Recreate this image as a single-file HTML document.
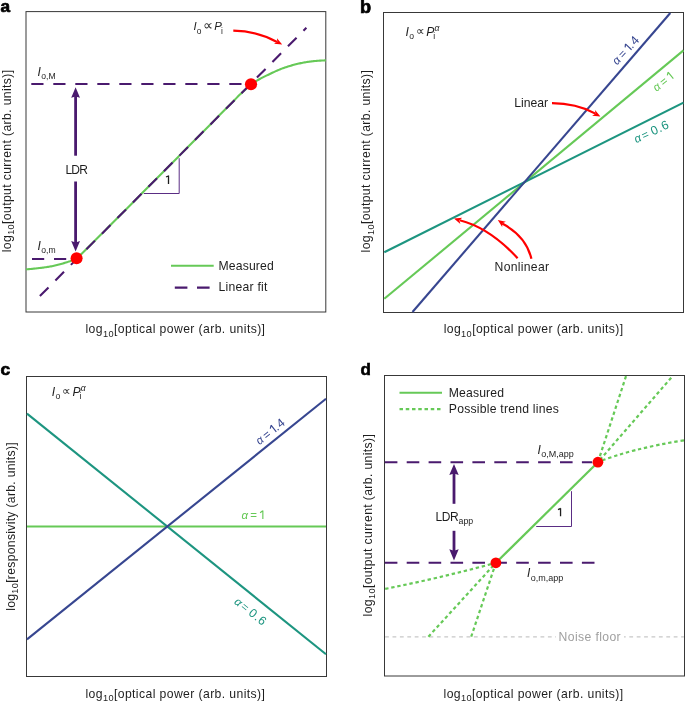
<!DOCTYPE html>
<html><head><meta charset="utf-8"><title>Figure</title>
<style>
html,body{margin:0;padding:0;background:#fff;}
body{width:685px;height:702px;overflow:hidden;}
svg{display:block;will-change:transform;font-family:"Liberation Sans", sans-serif;}
</style></head><body>
<svg width="685" height="702" viewBox="0 0 685 702">
<rect width="685" height="702" fill="#fff"/>
<rect x="26" y="11.6" width="299.8" height="300.4" fill="none" stroke="#383838" stroke-width="1"/>
<text x="0.4" y="11.6" font-size="17.2" font-weight="bold" fill="#000" stroke="#000" stroke-width="0.7">a</text>
<path d="M26 269.4 L27 269.32 L28 269.23 L29 269.14 L30 269.05 L31 268.95 L32 268.85 L33 268.75 L33.99 268.65 L34.99 268.54 L35.99 268.43 L36.99 268.32 L37.99 268.2 L38.99 268.08 L39.99 267.97 L40.99 267.85 L41.99 267.72 L42.99 267.6 L43.99 267.46 L44.99 267.33 L45.99 267.19 L46.99 267.04 L47.99 266.89 L48.98 266.72 L49.98 266.56 L50.98 266.38 L51.98 266.18 L52.98 265.98 L53.98 265.76 L54.98 265.53 L55.98 265.3 L56.98 265.05 L57.98 264.79 L58.98 264.53 L59.98 264.26 L60.98 263.98 L61.98 263.7 L62.98 263.42 L63.97 263.13 L64.97 262.84 L65.97 262.53 L66.97 262.21 L67.97 261.87 L68.97 261.52 L69.97 261.15 L70.97 260.75 L71.97 260.34 L72.97 259.91 L73.97 259.44 L74.97 258.93 L75.97 258.38 L76.97 257.76 L77.97 257.03 L78.96 256.2 L79.96 255.3 L80.96 254.37 L81.96 253.45 L82.96 252.52 L83.96 251.55 L84.96 250.56 L85.96 249.55 L86.96 248.53 L87.96 247.51 L88.96 246.49 L89.96 245.49 L90.96 244.5 L91.96 243.51 L92.96 242.53 L93.95 241.54 L94.95 240.55 L95.95 239.57 L96.95 238.58 L97.95 237.59 L98.95 236.6 L99.95 235.61 L100.95 234.62 L101.95 233.62 L102.95 232.62 L103.95 231.62 L104.95 230.62 L105.95 229.62 L106.95 228.61 L107.95 227.6 L108.94 226.6 L109.94 225.59 L110.94 224.58 L111.94 223.57 L112.94 222.56 L113.94 221.55 L114.94 220.54 L115.94 219.53 L116.94 218.53 L117.94 217.52 L118.94 216.51 L119.94 215.5 L120.94 214.5 L121.94 213.49 L122.94 212.48 L123.93 211.48 L124.93 210.47 L125.93 209.46 L126.93 208.46 L127.93 207.45 L128.93 206.45 L129.93 205.44 L130.93 204.43 L131.93 203.43 L132.93 202.42 L133.93 201.41 L134.93 200.41 L135.93 199.4 L136.93 198.39 L137.93 197.39 L138.92 196.38 L139.92 195.38 L140.92 194.37 L141.92 193.36 L142.92 192.36 L143.92 191.35 L144.92 190.34 L145.92 189.34 L146.92 188.33 L147.92 187.33 L148.92 186.32 L149.92 185.31 L150.92 184.31 L151.92 183.3 L152.92 182.29 L153.91 181.29 L154.91 180.28 L155.91 179.27 L156.91 178.27 L157.91 177.26 L158.91 176.26 L159.91 175.25 L160.91 174.24 L161.91 173.24 L162.91 172.23 L163.91 171.22 L164.91 170.22 L165.91 169.21 L166.91 168.2 L167.91 167.2 L168.9 166.19 L169.9 165.19 L170.9 164.18 L171.9 163.17 L172.9 162.17 L173.9 161.16 L174.9 160.15 L175.9 159.15 L176.9 158.14 L177.9 157.14 L178.9 156.13 L179.9 155.12 L180.9 154.12 L181.9 153.11 L182.9 152.1 L183.89 151.1 L184.89 150.09 L185.89 149.08 L186.89 148.08 L187.89 147.07 L188.89 146.07 L189.89 145.06 L190.89 144.05 L191.89 143.05 L192.89 142.04 L193.89 141.03 L194.89 140.03 L195.89 139.02 L196.89 138.02 L197.89 137.01 L198.88 136 L199.88 135 L200.88 133.99 L201.88 132.98 L202.88 131.98 L203.88 130.97 L204.88 129.96 L205.88 128.95 L206.88 127.95 L207.88 126.94 L208.88 125.93 L209.88 124.92 L210.88 123.92 L211.88 122.91 L212.88 121.9 L213.87 120.89 L214.87 119.88 L215.87 118.88 L216.87 117.87 L217.87 116.86 L218.87 115.86 L219.87 114.85 L220.87 113.84 L221.87 112.84 L222.87 111.83 L223.87 110.83 L224.87 109.82 L225.87 108.82 L226.87 107.81 L227.87 106.81 L228.86 105.81 L229.86 104.81 L230.86 103.8 L231.86 102.78 L232.86 101.75 L233.86 100.71 L234.86 99.68 L235.86 98.64 L236.86 97.62 L237.86 96.6 L238.86 95.6 L239.86 94.61 L240.86 93.65 L241.86 92.71 L242.86 91.81 L243.85 90.92 L244.85 90.04 L245.85 89.17 L246.85 88.3 L247.85 87.45 L248.85 86.61 L249.85 85.79 L250.85 84.99 L251.85 84.21 L252.85 83.45 L253.85 82.73 L254.85 82.02 L255.85 81.36 L256.85 80.72 L257.85 80.11 L258.84 79.53 L259.84 78.97 L260.84 78.42 L261.84 77.89 L262.84 77.38 L263.84 76.88 L264.84 76.39 L265.84 75.9 L266.84 75.42 L267.84 74.94 L268.84 74.46 L269.84 73.97 L270.84 73.49 L271.84 73.02 L272.84 72.54 L273.83 72.08 L274.83 71.61 L275.83 71.16 L276.83 70.71 L277.83 70.27 L278.83 69.84 L279.83 69.43 L280.83 69.02 L281.83 68.63 L282.83 68.26 L283.83 67.9 L284.83 67.56 L285.83 67.23 L286.83 66.91 L287.83 66.59 L288.82 66.28 L289.82 65.97 L290.82 65.67 L291.82 65.38 L292.82 65.1 L293.82 64.82 L294.82 64.56 L295.82 64.3 L296.82 64.05 L297.82 63.81 L298.82 63.58 L299.82 63.36 L300.82 63.15 L301.82 62.95 L302.82 62.76 L303.81 62.58 L304.81 62.4 L305.81 62.22 L306.81 62.06 L307.81 61.9 L308.81 61.74 L309.81 61.6 L310.81 61.47 L311.81 61.34 L312.81 61.23 L313.81 61.13 L314.81 61.05 L315.81 60.96 L316.81 60.88 L317.81 60.81 L318.8 60.73 L319.8 60.66 L320.8 60.6 L321.8 60.54 L322.8 60.5 L323.8 60.45 L324.8 60.42 L325.8 60.4" fill="none" stroke="#66c957" stroke-width="2.1"/>
<line x1="39.9" y1="296.1" x2="306.4" y2="27.8" stroke="#4a1a6e" stroke-width="2.1" stroke-dasharray="12.2 9.8"/>
<line x1="31.3" y1="84.1" x2="245" y2="84.1" stroke="#4a1a6e" stroke-width="2" stroke-dasharray="12.2 9.8"/>
<line x1="32" y1="258.9" x2="70" y2="258.9" stroke="#4a1a6e" stroke-width="2" stroke-dasharray="12.2 9.8"/>
<path d="M143.8 193.5 H179.2 V158.2" fill="none" stroke="#5a2d84" stroke-width="1"/>
<path d="M168.5 183.9 V175.6 M168.7 175.75 L166 177" fill="none" stroke="#1e1e1e" stroke-width="1.3"/>
<line x1="75.6" y1="96" x2="75.6" y2="155.7" stroke="#4a1a6e" stroke-width="2.8"/>
<path d="M75.6 87.2 L80 97.8 L75.6 96.4 L71.2 97.8 Z" fill="#4a1a6e"/>
<line x1="75.6" y1="181.5" x2="75.6" y2="243" stroke="#4a1a6e" stroke-width="2.8"/>
<path d="M75.6 251.6 L71.2 241 L75.6 242.4 L80 241 Z" fill="#4a1a6e"/>
<text x="65.4" y="173.5" font-size="12" fill="#1e1e1e" text-anchor="start" letter-spacing="-0.8">LDR</text>
<circle cx="76.6" cy="258.3" r="6" fill="#ff0000"/>
<circle cx="251" cy="84.25" r="6.1" fill="#ff0000"/>
<text x="37.4" y="75.6" font-size="12" fill="#1e1e1e"><tspan font-style="italic">I</tspan><tspan font-size="8.6" dy="3.2" dx="0.5">o,M</tspan></text>
<text x="37.4" y="249.6" font-size="12" fill="#1e1e1e"><tspan font-style="italic">I</tspan><tspan font-size="8.6" dy="3.2" dx="0.5">o,m</tspan></text>
<text font-size="11.4" fill="#1e1e1e"><tspan x="193.5" y="30.4" font-style="italic">I</tspan><tspan x="196.7" y="33.7" font-size="8.4">o</tspan><tspan x="202.9" y="29.7" font-size="13.5">∝</tspan><tspan x="214.3" y="30.4" font-style="italic">P</tspan><tspan x="221.0" y="33.7" font-size="8.4">i</tspan></text>
<path d="M233.3 30.6 Q257 31 277 42" fill="none" stroke="#ff0000" stroke-width="2.2"/>
<path d="M282.2 44.6 L273.99 43.86 L277.26 41.97 L276.99 38.21 Z" fill="#ff0000"/>
<line x1="171" y1="265.8" x2="213.7" y2="265.8" stroke="#66c957" stroke-width="2.1"/>
<line x1="174.8" y1="287.6" x2="210" y2="287.6" stroke="#4a1a6e" stroke-width="2.1" stroke-dasharray="12.6 9.6"/>
<text x="218.4" y="269.6" font-size="12.2" fill="#1e1e1e" text-anchor="start" textLength="55.4" lengthAdjust="spacing">Measured</text>
<text x="218.4" y="291.3" font-size="12.2" fill="#1e1e1e" text-anchor="start" textLength="49" lengthAdjust="spacing">Linear fit</text>
<text x="175.45" y="333.3" font-size="12.2" fill="#1e1e1e" text-anchor="middle" letter-spacing="0.4">log<tspan font-size="9.2" dy="3.2">10</tspan><tspan dy="-3.2">[optical power (arb. units)]</tspan></text>
<text transform="translate(10.9 160.9) rotate(-90)" x="0" y="0" font-size="12.2" fill="#1e1e1e" text-anchor="middle" letter-spacing="0.37">log<tspan font-size="9.2" dy="3.2">10</tspan><tspan dy="-3.2">[output current (arb. units)]</tspan></text>
<rect x="383.5" y="12.5" width="300" height="300" fill="none" stroke="#383838" stroke-width="1"/>
<text x="359.9" y="12.5" font-size="18.2" font-weight="bold" fill="#000" stroke="#000" stroke-width="0.7">b</text>
<line x1="384.3" y1="298.8" x2="683.5" y2="50.4" stroke="#66c957" stroke-width="2.1"/>
<line x1="384.3" y1="252.2" x2="683.5" y2="102.6" stroke="#1d9580" stroke-width="2.1"/>
<line x1="412.5" y1="312" x2="670.3" y2="13" stroke="#374690" stroke-width="2.1"/>
<text font-size="12.2" fill="#1e1e1e"><tspan x="405.4" y="35.6" font-style="italic">I</tspan><tspan x="409.2" y="39.3" font-size="8.6">o</tspan><tspan x="415.6" y="35">∝</tspan><tspan x="426.2" y="35.6" font-style="italic">P</tspan><tspan x="433.2" y="39.3" font-size="8.6">i</tspan><tspan x="434.5" y="30.6" font-size="8.6" font-style="italic">α</tspan></text>
<text x="514.2" y="106.6" font-size="12.2" fill="#1e1e1e" text-anchor="start" >Linear</text>
<text x="494.6" y="271.1" font-size="12.2" fill="#1e1e1e" text-anchor="start" textLength="54.4" lengthAdjust="spacing">Nonlinear</text>
<path d="M552 103.2 Q576 103.2 595.4 113.6" fill="none" stroke="#ff0000" stroke-width="2.2"/>
<path d="M600.4 116.4 L592.18 115.8 L595.41 113.86 L595.08 110.1 Z" fill="#ff0000"/>
<path d="M517.6 258.2 Q490 228 459.8 220.2" fill="none" stroke="#ff0000" stroke-width="2.2"/>
<path d="M454 218.6 L462.2 217.76 L459.36 220.24 L460.33 223.88 Z" fill="#ff0000"/>
<path d="M531.4 258.8 Q526 236 502.2 223.6" fill="none" stroke="#ff0000" stroke-width="2.2"/>
<path d="M497.8 220 L505.86 221.74 L502.39 223.21 L502.19 226.98 Z" fill="#ff0000"/>
<g transform="translate(617 65.4) rotate(-47)" fill="#374690" font-size="11.5"><text x="0" y="0" font-style="italic">α</text><text x="8.8" y="0">=</text><path d="M21.4 0 V-8.5 M21.3 -8.3 L18.7 -6.3" fill="none" stroke="#374690" stroke-width="1.15"/><text y="0" font-size="12.3"><tspan x="22.5">.</tspan><tspan x="26.8">4</tspan></text></g>
<g transform="translate(656.6 92) rotate(-38.5)" fill="#66c957" font-size="11.5"><text x="0" y="0" font-style="italic">α</text><text x="8.8" y="0">=</text><path d="M21.4 0 V-8.5 M21.3 -8.3 L18.7 -6.3" fill="none" stroke="#66c957" stroke-width="1.15"/></g>
<g transform="translate(636.3 143.3) rotate(-25)" fill="#1d9580" font-size="11.5"><text x="0" y="0" font-style="italic">α</text><text y="0"><tspan x="8.3">=</tspan><tspan x="18.4" font-size="12.3">0</tspan><tspan x="25.8" font-size="12.3">.</tspan><tspan x="30.1" font-size="12.3">6</tspan></text></g>
<text x="533.6" y="333.3" font-size="12.2" fill="#1e1e1e" text-anchor="middle" letter-spacing="0.4">log<tspan font-size="9.2" dy="3.2">10</tspan><tspan dy="-3.2">[optical power (arb. units)]</tspan></text>
<text transform="translate(370.4 161.1) rotate(-90)" x="0" y="0" font-size="12.2" fill="#1e1e1e" text-anchor="middle" letter-spacing="0.37">log<tspan font-size="9.2" dy="3.2">10</tspan><tspan dy="-3.2">[output current (arb. units)]</tspan></text>
<rect x="26.5" y="376.5" width="300" height="300" fill="none" stroke="#383838" stroke-width="1"/>
<text x="0.4" y="375" font-size="17.4" font-weight="bold" fill="#000" stroke="#000" stroke-width="0.7">c</text>
<line x1="27" y1="526.5" x2="326" y2="526.5" stroke="#66c957" stroke-width="2.1"/>
<line x1="27" y1="413.56" x2="326" y2="654.25" stroke="#1d9580" stroke-width="2.1"/>
<line x1="27" y1="639.44" x2="326" y2="398.75" stroke="#374690" stroke-width="2.1"/>
<text font-size="12.2" fill="#1e1e1e"><tspan x="51.7" y="395.6" font-style="italic">I</tspan><tspan x="55.5" y="399.3" font-size="8.6">o</tspan><tspan x="61.9" y="395">∝</tspan><tspan x="72.5" y="395.6" font-style="italic">P</tspan><tspan x="79.5" y="399.3" font-size="8.6">i</tspan><tspan x="80.8" y="390.6" font-size="8.6" font-style="italic">α</tspan></text>
<g transform="translate(259.6 445.2) rotate(-38.6)" fill="#374690" font-size="11.5"><text x="0" y="0" font-style="italic">α</text><text x="8.8" y="0">=</text><path d="M21.4 0 V-8.5 M21.3 -8.3 L18.7 -6.3" fill="none" stroke="#374690" stroke-width="1.15"/><text y="0" font-size="12.3"><tspan x="22.5">.</tspan><tspan x="26.8">4</tspan></text></g>
<g transform="translate(241.45 519) rotate(0)" fill="#66c957" font-size="11.5"><text x="0" y="0" font-style="italic">α</text><text x="8.8" y="0">=</text><path d="M21.4 0 V-8.5 M21.3 -8.3 L18.7 -6.3" fill="none" stroke="#66c957" stroke-width="1.15"/></g>
<g transform="translate(233.5 602.9) rotate(38.6)" fill="#1d9580" font-size="11.5"><text x="0" y="0" font-style="italic">α</text><text y="0"><tspan x="8.3">=</tspan><tspan x="18.4" font-size="12.3">0</tspan><tspan x="25.8" font-size="12.3">.</tspan><tspan x="30.1" font-size="12.3">6</tspan></text></g>
<text x="175.4" y="698.2" font-size="12.2" fill="#1e1e1e" text-anchor="middle" letter-spacing="0.4">log<tspan font-size="9.2" dy="3.2">10</tspan><tspan dy="-3.2">[optical power (arb. units)]</tspan></text>
<text transform="translate(14.8 526.45) rotate(-90)" x="0" y="0" font-size="12.2" fill="#1e1e1e" text-anchor="middle" letter-spacing="0.3">log<tspan font-size="9.2" dy="3.2">10</tspan><tspan dy="-3.2">[responsivity (arb. units)]</tspan></text>
<rect x="384.5" y="375.5" width="300" height="300.5" fill="none" stroke="#383838" stroke-width="1"/>
<text x="360.6" y="375" font-size="17" font-weight="bold" fill="#000" stroke="#000" stroke-width="0.6">d</text>
<line x1="385.1" y1="636.9" x2="683.9" y2="636.9" stroke="#c8c8c8" stroke-width="1.3" stroke-dasharray="3.8 3.6"/>
<rect x="556" y="629" width="68" height="14" fill="#fff"/>
<text x="558.6" y="641.2" font-size="12.2" fill="#a0a0a0" text-anchor="start" textLength="62" lengthAdjust="spacing">Noise floor</text>
<line x1="384.8" y1="462.3" x2="592" y2="462.3" stroke="#4a1a6e" stroke-width="2" stroke-dasharray="12.6 9.3"/>
<line x1="384.8" y1="562.8" x2="595.5" y2="562.8" stroke="#4a1a6e" stroke-width="2" stroke-dasharray="12.6 9.3"/>
<path d="M626 376.2 L597.9 462.2" fill="none" stroke="#66c957" stroke-width="2.2" stroke-dasharray="3.4 2.8"/>
<path d="M671.2 377.7 L597.9 462.2" fill="none" stroke="#66c957" stroke-width="2.2" stroke-dasharray="3.4 2.8"/>
<path d="M684 440.3 Q630 449 597.9 462.2" fill="none" stroke="#66c957" stroke-width="2.2" stroke-dasharray="3.4 2.8"/>
<path d="M428.4 636.7 L495.9 562.8" fill="none" stroke="#66c957" stroke-width="2.2" stroke-dasharray="3.4 2.8"/>
<path d="M471.2 636.7 L495.9 562.8" fill="none" stroke="#66c957" stroke-width="2.2" stroke-dasharray="3.4 2.8"/>
<path d="M385.2 588.9 Q440 578 495.9 562.8" fill="none" stroke="#66c957" stroke-width="2.2" stroke-dasharray="3.4 2.8"/>
<line x1="495.9" y1="562.8" x2="597.9" y2="462.2" stroke="#66c957" stroke-width="2.2"/>
<path d="M536.2 526.5 H571.5 V491.2" fill="none" stroke="#5a2d84" stroke-width="1"/>
<path d="M560.55 516.3 V508.2 M560.75 508.35 L558 509.6" fill="none" stroke="#1e1e1e" stroke-width="1.3"/>
<line x1="454" y1="472" x2="454" y2="503.8" stroke="#4a1a6e" stroke-width="2.8"/>
<path d="M454 463.9 L458.7 475.1 L454 473.5 L449.3 475.1 Z" fill="#4a1a6e"/>
<line x1="454" y1="530.8" x2="454" y2="552" stroke="#4a1a6e" stroke-width="2.8"/>
<path d="M454 560.4 L449.3 549.2 L454 550.8 L458.7 549.2 Z" fill="#4a1a6e"/>
<text x="435.6" y="521.1" font-size="12" fill="#1e1e1e" letter-spacing="-0.45">LDR<tspan font-size="8.8" dy="3.3" letter-spacing="0" dx="0.3">app</tspan></text>
<circle cx="597.9" cy="462.2" r="5.4" fill="#ff0000"/>
<circle cx="495.9" cy="562.8" r="5.4" fill="#ff0000"/>
<text x="537.6" y="453.7" font-size="12" fill="#1e1e1e"><tspan font-style="italic">I</tspan><tspan font-size="9" dy="3.2" dx="0.4">o,M,app</tspan></text>
<text x="527.0" y="577.3" font-size="12" fill="#1e1e1e"><tspan font-style="italic">I</tspan><tspan font-size="9" dy="3.2" dx="0.4">o,m,app</tspan></text>
<line x1="399.5" y1="392.8" x2="442" y2="392.8" stroke="#66c957" stroke-width="2.1"/>
<line x1="399.5" y1="409.1" x2="442" y2="409.1" stroke="#66c957" stroke-width="2.1" stroke-dasharray="3.5 2.75"/>
<text x="448.8" y="396.8" font-size="12.2" fill="#1e1e1e" text-anchor="start" textLength="55.2" lengthAdjust="spacing">Measured</text>
<text x="448.8" y="413.3" font-size="12.2" fill="#1e1e1e" text-anchor="start" textLength="110" lengthAdjust="spacing">Possible trend lines</text>
<text x="533.5" y="698.2" font-size="12.2" fill="#1e1e1e" text-anchor="middle" letter-spacing="0.4">log<tspan font-size="9.2" dy="3.2">10</tspan><tspan dy="-3.2">[optical power (arb. units)]</tspan></text>
<text transform="translate(372 525.1) rotate(-90)" x="0" y="0" font-size="12.2" fill="#1e1e1e" text-anchor="middle" letter-spacing="0.37">log<tspan font-size="9.2" dy="3.2">10</tspan><tspan dy="-3.2">[output current (arb. units)]</tspan></text>
</svg>
</body></html>
